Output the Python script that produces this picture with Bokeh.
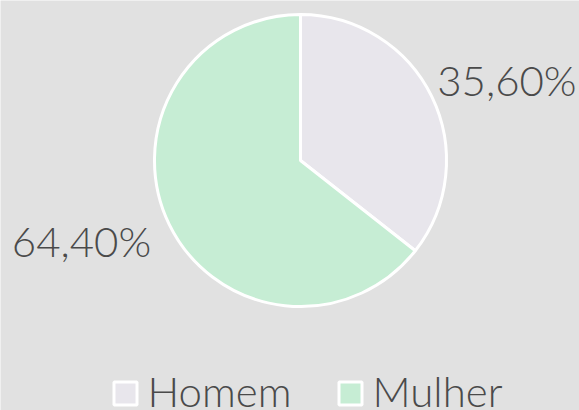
import math
from bokeh.plotting import figure
from bokeh.models import ColumnDataSource, Range1d
from bokeh.core.properties import value
from bokeh.embed import file_html
from bokeh.resources import INLINE

categories = ["Homem", "Mulher"]
shares = [35.60, 64.40]
labels = ["35,60%", "64,40%"]
colors = ["#e8e6ec", "#c6edd4"]

W, H = 579, 410
BG = "#e1e1e1"
TXT = "#4a4a4a"
FONT = "Lato Light"
FS = "42px"

p = figure(width=W, height=H, output_backend="svg", toolbar_location=None,
           x_range=Range1d(0, W), y_range=Range1d(0, H), min_border=0)
p.axis.visible = False
p.grid.visible = False
p.outline_line_color = None
p.background_fill_color = BG
p.border_fill_color = BG

cx, cy, R = 300, 250, 146
total = sum(shares)
starts, ends, mids = [], [], []
a = math.pi / 2
for s in shares:
    sweep = 2 * math.pi * s / total
    starts.append(a - sweep)
    ends.append(a)
    mids.append(a - sweep / 2)
    a -= sweep

src = ColumnDataSource(dict(cat=categories, start=starts, end=ends, color=colors))
p.wedge(x=cx, y=cy, radius=R, start_angle="start", end_angle="end",
        fill_color="color", line_color="white", line_width=3, source=src)

lx, ly, al = [], [], []
for m in mids:
    c = math.cos(m)
    lx.append(cx + c * (152 if c > 0 else 166))
    ly.append(cy + math.sin(m) * 184)
    al.append("left" if c > 0 else "right")
p.text(x=lx, y=ly, text=labels, text_align=al, text_baseline="middle",
       text_font=value(FONT), text_font_size=FS, text_color=TXT)

# legend
leg_x = [125, 350]
leg_y = 17
p.rect(x=leg_x, y=leg_y, width=23, height=23, fill_color=colors,
       line_color="white", line_width=3)
p.text(x=[x + 22 for x in leg_x], y=[leg_y + 3] * 2, text=categories,
       text_align="left", text_baseline="middle",
       text_font=value(FONT), text_font_size=FS, text_color=TXT)

open("out.html", "w").write(file_html(p, INLINE))
